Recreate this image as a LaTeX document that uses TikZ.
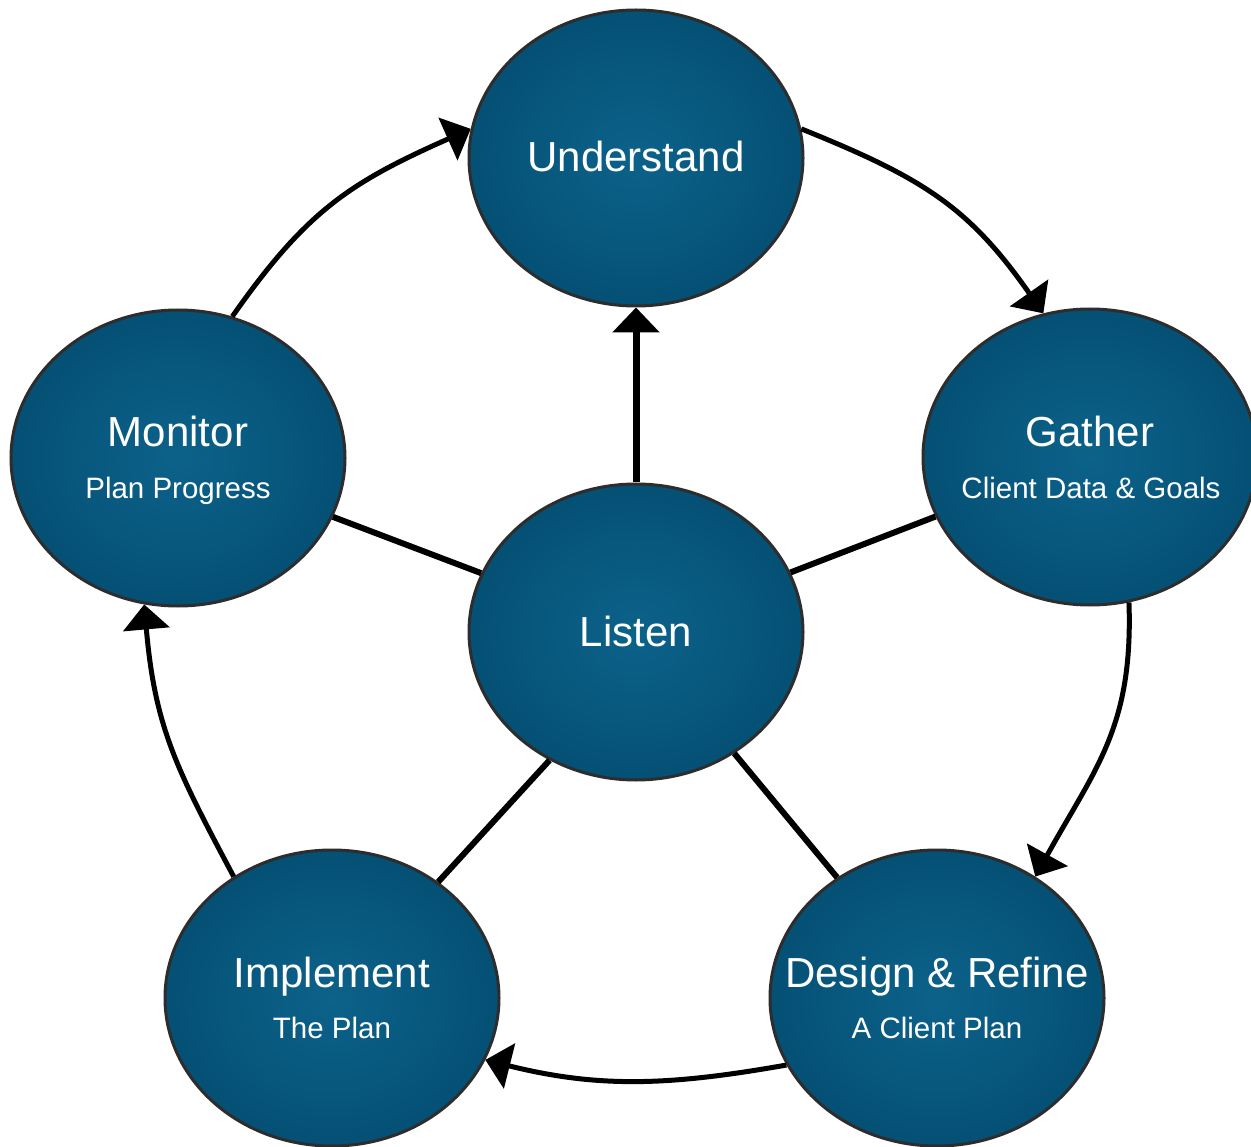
\documentclass[tikz,border=0pt]{standalone}
\usepackage{fontspec}
\setmainfont{Liberation Sans}
\usetikzlibrary{arrows.meta,shapes.geometric}
\definecolor{stin}{RGB}{12,98,138}
\definecolor{stout}{RGB}{5,80,117}
\definecolor{rim}{RGB}{45,45,45}
\begin{document}
\begin{tikzpicture}[x=1pt,y=1pt,
  stage/.style={ellipse, draw=rim, line width=3pt, shade, shading=radial,
    inner color=stin, outer color=stout,
    minimum width=334pt, minimum height=296pt, inner sep=0pt},
  title/.style={text=white, font=\fontsize{42}{42}\selectfont, anchor=base, inner sep=0pt},
  sub/.style={text=white, font=\fontsize{29.5}{29.5}\selectfont, anchor=base, inner sep=0pt},
  flow/.style={line width=5pt, -{Triangle[length=25pt,width=46pt]}},
  spoke/.style={line width=6pt}]
\useasboundingbox (0,0) rectangle (1251,-1147);
\fill[white] (0,0) rectangle (1251,-1147);

% stages
\node[stage] (U) at (636,-158) {};
\node[stage] (L) at (636,-632) {};
\node[stage] (M) at (178,-458) {};
\node[stage] (G) at (1090,-457) {};
\node[stage] (I) at (332,-998) {};
\node[stage] (D) at (937,-998) {};

% texts
\node[title] (Ut) at (636,-172) {Understand};
\node[title] (Lt) at (636,-646) {Listen};
\node[title] (Mt) at (178,-447) {Monitor};
\node[sub]   (Ms) at (178,-498) {Plan Progress};
\node[title] (Gt) at (1090,-447) {Gather};
\node[sub]   (Gs) at (1091,-498) {Client Data \& Goals};
\node[title] (It) at (332,-987) {Implement};
\node[sub]   (Is) at (332,-1038) {The Plan};
\node[title] (Dt) at (937,-987) {Design \& Refine};
\node[sub]   (Ds) at (937,-1038) {A Client Plan};

% spokes
\draw[spoke] (L) -- (M);
\draw[spoke] (L) -- (G);
\draw[spoke] (L.-124) -- (I);
\draw[spoke] (L.-51) -- (D);
\draw[flow, line width=7pt] (L) -- (U);

% cycle
\draw[flow] (U.10) to[out=-22,in=125,looseness=1.1] (G.108);
\draw[flow] (G.-75) to[out=-88,in=61,looseness=1.1] (D.51);
\draw[flow] (D.-156) to[out=190,in=-14] (I.-22);
\draw[flow] (I.129) to[out=118,in=-85,looseness=1.1] (M.-103);
\draw[flow] (M.69) to[out=55,in=-156,looseness=1.1] (U.170);
\end{tikzpicture}
\end{document}
